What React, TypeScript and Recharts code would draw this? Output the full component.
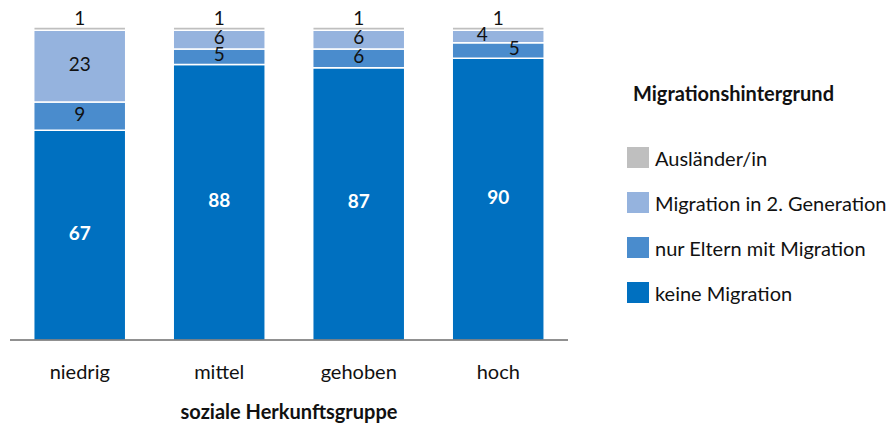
import { BarChart, Bar, XAxis, YAxis, LabelList } from "recharts";

const gruppen = ["niedrig", "mittel", "gehoben", "hoch"];
const keineMigration = [67, 88, 87, 90];
const nurEltern = [9, 5, 6, 5];
const zweiteGeneration = [23, 6, 6, 4];
const auslaender = [1, 1, 1, 1];

const reihen = [
  { key: "keine", name: "keine Migration", color: "#0070C0" },
  { key: "eltern", name: "nur Eltern mit Migration", color: "#4A8CCD" },
  { key: "zweite", name: "Migration in 2. Generation", color: "#95B3DE" },
  { key: "ausl", name: "Ausländer/in", color: "#BFBFBF" },
];

const data = gruppen.map((g, i) => ({
  name: g,
  keine: keineMigration[i],
  eltern: nurEltern[i],
  zweite: zweiteGeneration[i],
  ausl: auslaender[i],
}));

const FONT = "Lato, 'Open Sans', sans-serif";

// kleine Werte in "hoch" liegen in der Vorlage seitlich versetzt
const shiftX: Record<string, number[]> = {
  keine: [0, 0, 0, 0],
  eltern: [0, 0, 0, 16],
  zweite: [0, 0, 0, -16],
  ausl: [0, 0, 0, 0],
};

function makeLabel(key: string) {
  return (props: any) => {
    const { x, y, width, height, value, index } = props;
    const cx = Number(x) + Number(width) / 2 + (shiftX[key][index] || 0);
    let cy = Number(y) + Number(height) / 2 - 3;
    if (key === "ausl") cy = Number(y) - 10;
    const white = key === "keine";
    return (
      <text
        x={cx}
        y={cy}
        textAnchor="middle"
        dominantBaseline="central"
        fill={white ? "#fff" : "#111"}
        fontWeight={white ? 700 : 400}
        fontSize={19}
        fontFamily={FONT}
      >
        {value}
      </text>
    );
  };
}

function LegendBox() {
  const items = [...reihen].reverse();
  return (
    <div style={{ position: "absolute", left: 627, top: 82, width: 260, fontFamily: FONT, color: "#111" }}>
      <div style={{ fontWeight: 700, fontSize: 20, marginLeft: 6, height: 22, lineHeight: "22px" }}>
        Migrationshintergrund
      </div>
      <div style={{ height: 31 }} />
      {items.map((r) => (
        <div key={r.key} style={{ display: "flex", alignItems: "center", height: 45 }}>
          <div style={{ width: 22, height: 21, background: r.color, marginRight: 6 }} />
          <span style={{ fontSize: 20 }}>{r.name}</span>
        </div>
      ))}
    </div>
  );
}

export default function App() {
  return (
    <div style={{ position: "absolute", left: 0, top: 0, width: 887, height: 426, background: "#fff" }}>
      <BarChart
        width={887}
        height={426}
        data={data}
        barCategoryGap="17%"
        margin={{ top: 27, right: 319, left: 10, bottom: 6 }}
      >
        <YAxis hide domain={[0, 100]} />
        <XAxis
          dataKey="name"
          height={80}
          tickLine={false}
          tickMargin={19}
          axisLine={{ stroke: "#222" }}
          tick={{ fill: "#111", fontSize: 20, fontFamily: FONT }}
          label={{
            value: "soziale Herkunftsgruppe",
            position: "insideBottom",
            offset: 1,
            fill: "#111",
            fontSize: 20,
            fontWeight: 700,
            fontFamily: FONT,
          }}
        />
        {reihen.map((r) => (
          <Bar
            key={r.key}
            dataKey={r.key}
            name={r.name}
            stackId="a"
            fill={r.color}
            stroke="#fff"
            strokeWidth={1.5}
            isAnimationActive={false}
          >
            <LabelList dataKey={r.key} content={makeLabel(r.key)} />
          </Bar>
        ))}
      </BarChart>
      <LegendBox />
    </div>
  );
}
